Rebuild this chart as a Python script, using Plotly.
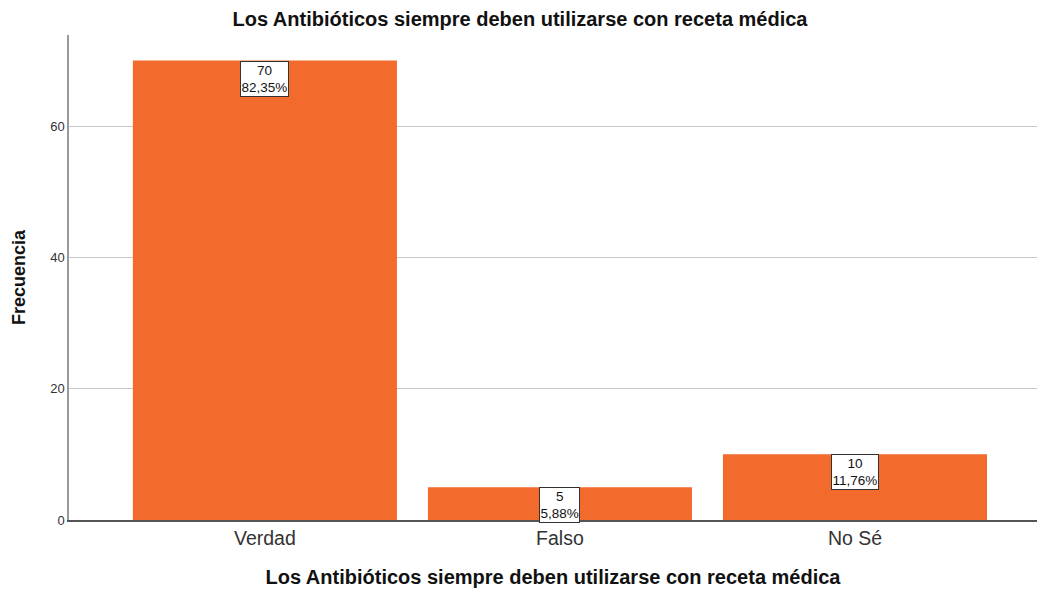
import plotly.graph_objects as go

categories = ["Verdad", "Falso", "No Sé"]
counts = [70, 5, 10]
percent_labels = ["82,35%", "5,88%", "11,76%"]
y_ticks = [0, 20, 40, 60]

title_text = "Los Antibióticos siempre deben utilizarse con receta médica"
FONT = "Arial, Liberation Sans, sans-serif"

fig = go.Figure()
fig.add_trace(go.Bar(
    x=categories, y=counts,
    marker=dict(color="#F26A2C", line=dict(width=0)),
    width=0.895,
    hoverinfo="x+y",
))

for c, v, p in zip(categories, counts, percent_labels):
    fig.add_annotation(
        x=c, y=v, xref="x", yref="y",
        text=f"{v}<br>{p}",
        showarrow=False, yanchor="top", xanchor="center",
        font=dict(family=FONT, size=13.5, color="#111111"),
        bgcolor="white", bordercolor="#333333", borderwidth=1, borderpad=0.5,
        align="center",
    )

fig.update_layout(
    width=1040, height=591,
    margin=dict(l=69, r=3, t=35, b=71),
    paper_bgcolor="white", plot_bgcolor="white",
    title=dict(text=f"<b>{title_text}</b>", x=0.5, xanchor="center", y=0.968, yanchor="middle",
               font=dict(family=FONT, size=20, color="#111111")),
    bargap=0.1,
    showlegend=False,
)
fig.update_xaxes(
    range=[-0.664, 2.617],
    showline=True, linecolor="#555555", linewidth=1.5,
    ticks="", tickfont=dict(family=FONT, size=19.5, color="#333333"),
    title=dict(text=f"<b>{title_text}</b>", font=dict(family=FONT, size=20, color="#111111"), standoff=22),
    showgrid=False, automargin=False,
)
fig.update_yaxes(
    range=[0, 73.9],
    tickvals=y_ticks,
    showline=True, linecolor="#999999", linewidth=1.5,
    showgrid=True, gridcolor="#C8C8C8", gridwidth=1,
    ticks="", ticklen=0,
    tickfont=dict(family=FONT, size=13, color="#333333"),
    title=dict(text="<b>Frecuencia</b>", font=dict(family=FONT, size=18, color="#111111"), standoff=20),
    zeroline=False, automargin=False,
)

fig.write_html("out.html", config={"displayModeBar": False},
               post_script="document.body.style.margin='0';document.body.style.overflow='hidden';")
